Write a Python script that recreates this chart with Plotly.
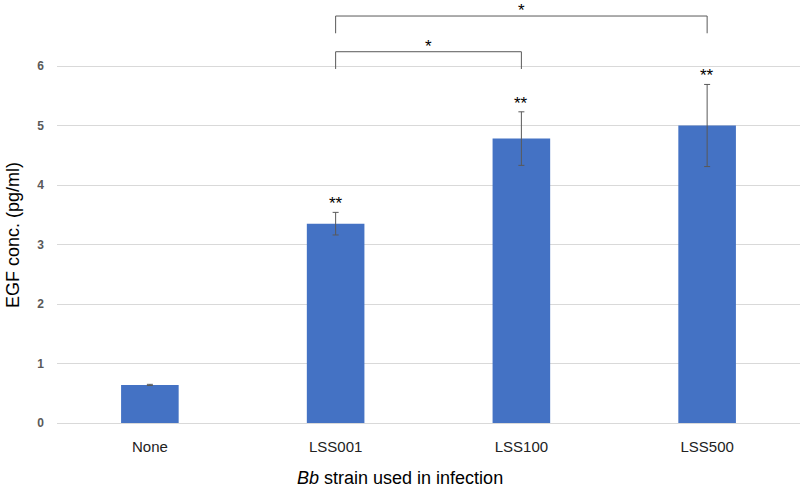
import plotly.graph_objects as go

categories = ["None", "LSS001", "LSS100", "LSS500"]
values = [0.64, 3.35, 4.78, 5.0]
errors = [0.01, 0.19, 0.45, 0.69]
bar_marks = ["", "**", "**", "**"]

brackets = [("LSS001", "LSS100", 6.24, "*"), ("LSS001", "LSS500", 6.84, "*")]
bracket_leg = 0.29

y_ticks = [0, 1, 2, 3, 4, 5, 6]

FONT = "Liberation Sans, Arial, sans-serif"
GREY = "#595959"

fig = go.Figure()
fig.add_trace(go.Bar(
    x=categories, y=values, width=0.31,
    marker=dict(color="#4472C4", line=dict(width=0)),
    error_y=dict(type="data", array=errors, visible=True, color=GREY, thickness=1, width=3),
    showlegend=False,
))

annotations = []
for c, v, e, m in zip(categories, values, errors, bar_marks):
    if m:
        annotations.append(dict(x=c, y=v + e, yref="y", xref="x", text=m, showarrow=False,
                                yanchor="bottom", yshift=-3, font=dict(family=FONT, size=17, color="#000")))

for a, b, h, m in brackets:
    fig.add_trace(go.Scatter(x=[a, a, b, b], y=[h - bracket_leg, h, h, h - bracket_leg],
                             mode="lines", line=dict(color=GREY, width=1), showlegend=False,
                             hoverinfo="skip", cliponaxis=False))
    i = categories.index(a)
    j = categories.index(b)
    annotations.append(dict(x=(i + j) / 2, y=h, xref="x", yref="y", text=m, showarrow=False,
                            yanchor="bottom", yshift=-6, font=dict(family=FONT, size=17, color="#000")))

annotations.append(dict(x=-57 / 743, y=(423 - 235) / 423, xref="paper", yref="paper",
                        xanchor="left", yanchor="middle", xshift=1,
                        text="EGF conc. (pg/ml)", textangle=-90, showarrow=False,
                        font=dict(family=FONT, size=18, color="#000")))
annotations.append(dict(x=(400 - 57) / 743, y=-55 / 423, xref="paper", yref="paper",
                        xanchor="center", yanchor="middle",
                        text="<i>Bb</i> strain used in infection", showarrow=False,
                        font=dict(family=FONT, size=18, color="#000")))

fig.update_layout(
    width=800, height=491,
    margin=dict(l=57, r=0, t=0, b=68),
    paper_bgcolor="white", plot_bgcolor="white",
    annotations=annotations,
    font=dict(family=FONT),
)
fig.update_xaxes(type="category", range=[-0.5, 3.5], showgrid=False, showline=False,
                 ticks="", tickfont=dict(family=FONT, size=15, color="#222"), ticklabelstandoff=13)
fig.update_yaxes(range=[0, 423 / 59.5], tickvals=y_ticks, showgrid=True, gridcolor="#d9d9d9",
                 gridwidth=1, zeroline=True, zerolinecolor="#d9d9d9", zerolinewidth=1,
                 showline=False, ticks="", ticklabelstandoff=12,
                 tickfont=dict(family=FONT, size=12, color=GREY, weight="bold"))

fig.write_html("out.html", config={"displayModeBar": False},
               post_script="document.body.style.margin='0';document.body.style.overflow='hidden';")
